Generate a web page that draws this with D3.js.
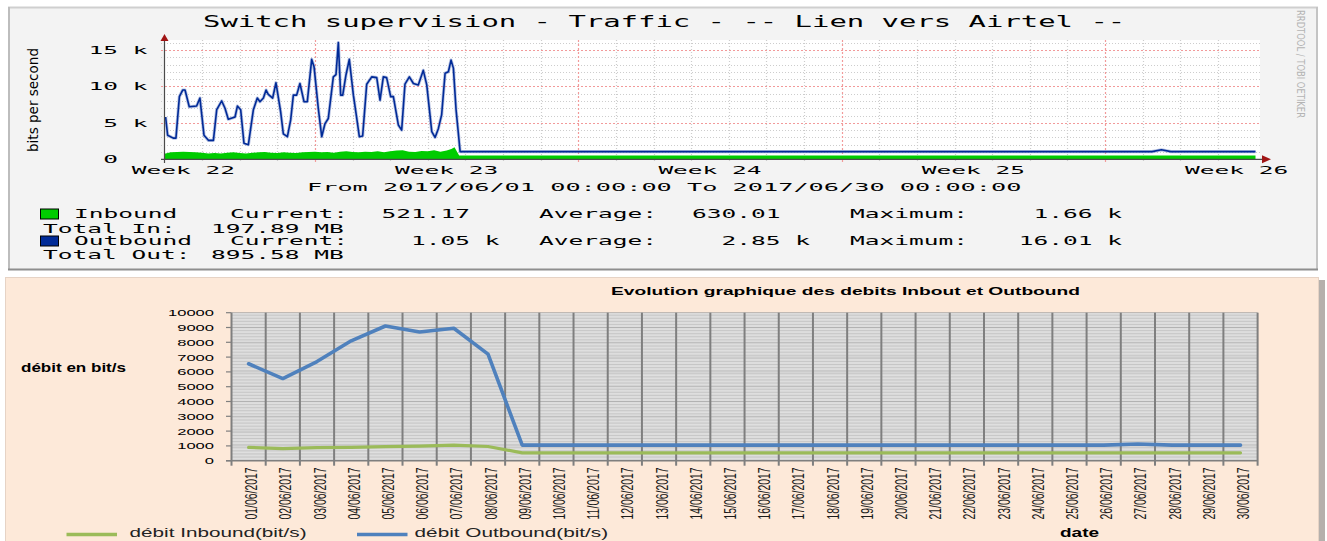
<!DOCTYPE html>
<html><head><meta charset="utf-8">
<script src="https://cdn.jsdelivr.net/npm/d3@7"></script>
<style>html,body{margin:0;padding:0;background:#fff;overflow:hidden}</style>
</head><body>
<svg id="c" width="1327" height="541" xmlns="http://www.w3.org/2000/svg"></svg>
<script>
// ================= TOP CHART (RRDtool) DATA =================
// hours since 2017/06/01 00:00, values in kbit/s
const outHours = [0.7,2.0,5.6,7.3,9.5,11.6,13.1,15.8,20.5,22.6,25.2,28.0,31.2,33.3,36.5,38.6,40.7,45.0,46.5,48.6,50.7,53.5,56.7,59.2,60.9,63.1,64.8,66.2,69.0,71.1,74.1,75.8,78.4,80.5,82.2,84.3,86.4,89.0,91.1,93.9,95.4,98.1,100.3,102.4,104.5,107.7,109.4,110.9,112.4,113.7,115.8,117.9,120.5,122.2,124.3,126.4,129.0,132.2,135.4,137.5,139.6,141.7,144.3,146.0,149.2,151.3,153.4,156.2,158.8,161.9,165.1,167.3,170.5,172.6,174.7,176.8,179.0,181.1,182.8,184.3,186.0,188.6,630,636,642,696];
const outKbps  = [5.8,3.3,2.9,2.9,8.6,9.5,9.5,7.2,7.3,8.4,3.3,2.6,2.6,6.8,8.0,7.0,5.5,5.8,7.3,6.8,2.2,2.0,6.8,8.4,7.9,8.4,9.5,8.9,8.4,10.5,6.5,3.5,3.1,5.4,8.8,8.8,10.4,7.9,7.9,13.7,12.7,7.0,3.1,4.9,5.6,11.3,11.6,16.0,8.8,8.8,11.6,13.7,8.8,6.3,3.1,3.2,10.3,11.3,11.2,8.1,11.3,11.2,8.6,8.6,4.7,4.0,10.3,11.3,10.4,10.2,12.2,10.2,3.8,3.0,4.2,6.1,11.8,12.0,13.6,12.5,6.8,1.05,1.05,1.3,1.05,1.05];
const inHours  = [0,4,8,12,16,20,24,28,32,36,40,44,48,52,56,60,64,68,72,76,80,84,88,92,96,100,104,108,112,116,120,124,128,132,136,140,144,148,152,156,160,164,168,172,176,180,183,185,188,696];
const inKbps   = [0.75,0.95,1.0,1.05,1.0,0.95,0.9,0.8,0.85,0.8,0.9,0.95,0.85,0.8,0.9,0.95,1.0,0.9,0.85,0.95,0.9,0.85,0.95,1.0,1.05,0.95,1.0,0.9,1.05,1.1,1.0,0.95,1.05,1.0,1.1,0.95,1.1,1.2,1.25,1.05,1.0,1.15,1.1,1.25,1.05,1.2,1.4,1.66,0.52,0.52];
const topYTickValues = [0, 5, 10, 15];
const topYTickLabels = ["0", "5 k", "10 k", "15 k"];
const weekLabels = ["Week 22", "Week 23", "Week 24", "Week 25", "Week 26"];
const weekCenterHours = [12, 180, 348, 516, 684];
const mondayHours = [96, 264, 432, 600];
const topTitle = "Switch supervision - Traffic - -- Lien vers Airtel --";
const topRange = "From 2017/06/01 00:00:00 To 2017/06/30 00:00:00";
const legendNames = ["Inbound", "Outbound"];
const legendCurrent = ["521.17", "1.05 k"];
const legendAverage = ["630.01", "2.85 k"];
const legendMaximum = ["1.66 k", "16.01 k"];
const legendTotals = ["Total In:", "Total Out:"];
const legendTotalValues = ["197.89 MB", "895.58 MB"];

// ================= BOTTOM CHART (Excel) DATA =================
const dates = ["01/06/2017","02/06/2017","03/06/2017","04/06/2017","05/06/2017","06/06/2017","07/06/2017","08/06/2017","09/06/2017","10/06/2017","11/06/2017","12/06/2017","13/06/2017","14/06/2017","15/06/2017","16/06/2017","17/06/2017","18/06/2017","19/06/2017","20/06/2017","21/06/2017","22/06/2017","23/06/2017","24/06/2017","25/06/2017","26/06/2017","27/06/2017","28/06/2017","29/06/2017","30/06/2017"];
const inboundDaily  = [900,820,880,900,950,980,1050,960,530,530,530,530,530,530,530,530,530,530,530,530,530,530,530,530,530,530,530,530,530,530];
const outboundDaily = [6550,5550,6700,8100,9100,8700,8950,7200,1050,1050,1050,1050,1050,1050,1050,1050,1050,1050,1050,1050,1050,1050,1050,1050,1050,1050,1130,1050,1050,1050];
const bottomYTicks = [0,1000,2000,3000,4000,5000,6000,7000,8000,9000,10000];
const bottomTitle = "Evolution graphique des debits Inbout et Outbound";
const bottomYLabel = "débit en bit/s";
const bottomXLabel = "date";
const bottomLegend = ["débit Inbound(bit/s)", "débit Outbound(bit/s)"];

// ================= DRAWING =================
const svg = d3.select("#c");
const MONO = "'DejaVu Sans Mono', monospace";
const SANS = "'Liberation Sans', Arial, sans-serif";
svg.append("rect").attr("width",1327).attr("height",541).attr("fill","#fff");

function stretchText(g, s, x, baseline, size, len, opts = {}) {
  const t = g.append("text").attr("x", x).attr("y", baseline)
    .attr("font-family", opts.family || MONO).attr("font-size", size)
    .attr("fill", opts.fill || "#000")
    .attr("textLength", len).attr("lengthAdjust", "spacingAndGlyphs")
    .attr("text-anchor", opts.anchor || "start")
    .text(s);
  if (opts.weight) t.attr("font-weight", opts.weight);
  if (opts.transform) t.attr("transform", opts.transform);
  return t;
}

// ---------- top panel ----------
const topG = svg.append("g");
topG.append("rect").attr("x",8).attr("y",7).attr("width",1310).attr("height",263).attr("fill","#f3f3f3");
topG.append("line").attr("x1",8).attr("x2",1318).attr("y1",7.5).attr("y2",7.5).attr("stroke","#cfcfcf").attr("stroke-width",2);
topG.append("line").attr("x1",9).attr("x2",9).attr("y1",7).attr("y2",270).attr("stroke","#bdbdbd").attr("stroke-width",2);
topG.append("line").attr("x1",1317).attr("x2",1317).attr("y1",7).attr("y2",270).attr("stroke","#c4c4c4").attr("stroke-width",2);
topG.append("line").attr("x1",8).attr("x2",1318).attr("y1",269.5).attr("y2",269.5).attr("stroke","#8e8e8e").attr("stroke-width",2);

const xT = d3.scaleLinear().domain([0, 696]).range([164.5, 1255.5]);
const yT = d3.scaleLinear().domain([0, 16.36]).range([159.3, 40]);
const plotRight = 1260;

topG.append("rect").attr("x",xT(0)).attr("y",40).attr("width",plotRight-xT(0)).attr("height",yT(0)-40).attr("fill","#fff");

// horizontal grid (minor every 1k, major every 5k)
const hk = d3.range(1, 17);
topG.selectAll(".hg").data(hk).join("line")
  .attr("x1", 161).attr("x2", plotRight)
  .attr("y1", d => Math.round(yT(d)) + 0.5).attr("y2", d => Math.round(yT(d)) + 0.5)
  .attr("stroke", d => d % 5 === 0 ? "#f29a9a" : "#cdcdcd")
  .attr("stroke-width", 1).attr("stroke-dasharray", d => d % 5 === 0 ? "2,2" : "1,2");
// vertical grid daily + mondays
const dayHours = d3.range(24, 696, 24);
topG.selectAll(".vg").data(dayHours.filter(h => !mondayHours.includes(h))).join("line")
  .attr("x1", d => Math.round(xT(d)) + 0.5).attr("x2", d => Math.round(xT(d)) + 0.5)
  .attr("y1", 40).attr("y2", 162).attr("stroke", "#cdcdcd").attr("stroke-width", 1.2).attr("stroke-dasharray", "1,2");
topG.selectAll(".vm").data(mondayHours).join("line")
  .attr("x1", d => Math.round(xT(d)) + 0.5).attr("x2", d => Math.round(xT(d)) + 0.5)
  .attr("y1", 40).attr("y2", 164).attr("stroke", "#f29a9a").attr("stroke-width", 1.2).attr("stroke-dasharray", "2,2");

// inbound area
const inData = inHours.map((h, i) => [h, inKbps[i]]);
topG.append("path").datum(inData)
  .attr("d", d3.area().x(d => xT(d[0])).y0(yT(0)).y1(d => yT(d[1])))
  .attr("fill", "#00cc00");
// outbound line
const outData = outHours.map((h, i) => [h, outKbps[i]]);
topG.append("path").datum(outData)
  .attr("d", d3.line().x(d => xT(d[0])).y(d => yT(d[1])))
  .attr("fill", "none").attr("stroke", "#6f86c6").attr("stroke-width", 3.2).attr("stroke-opacity", 0.5).attr("stroke-linejoin", "round");
topG.append("path").datum(outData)
  .attr("d", d3.line().x(d => xT(d[0])).y(d => yT(d[1])))
  .attr("fill", "none").attr("stroke", "#002a97").attr("stroke-width", 1.6).attr("stroke-linejoin", "round");

// axes
topG.append("line").attr("x1", 161).attr("x2", 1263).attr("y1", yT(0)).attr("y2", yT(0)).attr("stroke", "#4a4a4a").attr("stroke-width", 1.2);
topG.append("line").attr("x1", xT(0)).attr("x2", xT(0)).attr("y1", 38).attr("y2", 163).attr("stroke", "#4a4a4a").attr("stroke-width", 1.2);
topG.append("path").attr("d", `M${xT(0)-4},${41} L${xT(0)+4},${41} L${xT(0)},${34} Z`).attr("fill", "#a01414");
topG.append("path").attr("d", `M1262,${yT(0)-4} L1262,${yT(0)+4} L1271,${yT(0)} Z`).attr("fill", "#a01414");

// texts
const CW = 14.75;
stretchText(topG, topTitle, 203, 26.8, 16, topTitle.length * 17.4);
topYTickValues.forEach((v, i) => {
  const s = topYTickLabels[i];
  const padded = s.padStart(4, " ");
  const lead = s === "0" ? 1 : padded.length - padded.trimStart().length;
  const x0 = 88.5 + lead * CW;
  stretchText(topG, s, x0, yT(v) + 4, 11, s.length * CW);
});
weekLabels.forEach((s, i) => {
  stretchText(topG, s, xT(weekCenterHours[i]), 173.5, 11, s.length * CW, {anchor: "middle"});
});
stretchText(topG, topRange, 307, 190.8, 11, topRange.length * 15.2);
stretchText(topG, "bits per second", 0, 0, 13.5, 104, {family: "'DejaVu Sans', sans-serif", anchor: "middle", transform: "translate(37.5,100) rotate(-90)"});
stretchText(topG, "RRDTOOL / TOBI OETIKER", 0, 0, 10, 108, {family: "'DejaVu Sans', sans-serif", fill: "#b4b4b4", transform: "translate(1297,10) rotate(90)"});

// legend
const legendColors = ["#00cc00", "#002a97"];
const rowY = [214, 241];
const totY = [228.3, 255];
legendNames.forEach((name, i) => {
  topG.append("rect").attr("x", 40.5).attr("y", rowY[i] - 5).attr("width", 18).attr("height", 10)
    .attr("fill", legendColors[i]).attr("stroke", "#000").attr("stroke-width", 1);
  const fy = rowY[i] + 4.2;
  stretchText(topG, name, 74, fy, 11.5, name.length * CW);
  stretchText(topG, "Current:", 230, fy, 11.5, 8 * CW);
  stretchText(topG, "Average:", 539, fy, 11.5, 8 * CW);
  stretchText(topG, "Maximum:", 850, fy, 11.5, 8 * CW);
  const field = (v) => { const p = (v.endsWith(" k") ? v : v + "  ").padStart(10, " "); return p.length - p.trimStart().length; };
  stretchText(topG, legendCurrent[i], 352 + field(legendCurrent[i]) * CW, fy, 11.5, legendCurrent[i].length * CW);
  stretchText(topG, legendAverage[i], 662.5 + field(legendAverage[i]) * CW, fy, 11.5, legendAverage[i].length * CW);
  stretchText(topG, legendMaximum[i], 974.5 + field(legendMaximum[i]) * CW, fy, 11.5, legendMaximum[i].length * CW);
  const ty = totY[i] + 4.2;
  stretchText(topG, legendTotals[i], 43, ty, 11.5, legendTotals[i].length * CW);
  stretchText(topG, legendTotalValues[i], 211, ty, 11.5, legendTotalValues[i].length * CW);
});

// ---------- bottom panel ----------
const bot = svg.append("g");
bot.append("rect").attr("x", 1319).attr("y", 280).attr("width", 6).attr("height", 261).attr("fill", "#b5b0ac");
bot.append("rect").attr("x", 5.5).attr("y", 277.5).attr("width", 1313).attr("height", 270).attr("fill", "#fde9d9").attr("stroke", "#e6d3c5").attr("stroke-width", 1);

const xB = d3.scaleBand().domain(dates).range([231.5, 1257.6]).paddingInner(0).paddingOuter(0);
const yB = d3.scaleLinear().domain([0, 10000]).range([460.7, 312.7]);

bot.append("rect").attr("x", 231.5).attr("y", yB(10000)).attr("width", 1257.6 - 231.5).attr("height", yB(0) - yB(10000)).attr("fill", "#f6f6f6");
const minorH = d3.range(100, 10001, 100);
bot.selectAll(".hb").data(minorH).join("line")
  .attr("x1", 231.5).attr("x2", 1257.6).attr("y1", d => yB(d)).attr("y2", d => yB(d))
  .attr("stroke", d => d % 1000 === 0 ? "#8c8c8c" : "#acacac").attr("stroke-width", 0.65);
const bounds = d3.range(0, dates.length + 1).map(i => xB.range()[0] + i * xB.step());
bot.selectAll(".vb").data(bounds).join("line")
  .attr("x1", d => d).attr("x2", d => d).attr("y1", yB(10000)).attr("y2", yB(0) + 5)
  .attr("stroke", "#7f7f7f").attr("stroke-width", 2);
// y axis ticks
bot.selectAll(".yt").data(bottomYTicks).join("line")
  .attr("x1", 226).attr("x2", 231.5).attr("y1", d => yB(d)).attr("y2", d => yB(d))
  .attr("stroke", "#7f7f7f").attr("stroke-width", 1.2);
bot.append("line").attr("x1", 226).attr("x2", 1257.6).attr("y1", yB(0)).attr("y2", yB(0)).attr("stroke", "#7f7f7f").attr("stroke-width", 1.5);

const cx = d => xB(d) + xB.bandwidth() / 2;
const lineB = d3.line();
bot.append("path").datum(dates.map((d, i) => [cx(d), yB(inboundDaily[i])]))
  .attr("d", lineB).attr("fill", "none").attr("stroke", "#9bbb59").attr("stroke-width", 3.2)
  .attr("stroke-linecap", "round").attr("stroke-linejoin", "round");
bot.append("path").datum(dates.map((d, i) => [cx(d), yB(outboundDaily[i])]))
  .attr("d", lineB).attr("fill", "none").attr("stroke", "#4f81bd").attr("stroke-width", 3.6)
  .attr("stroke-linecap", "round").attr("stroke-linejoin", "round");

// texts
bottomYTicks.forEach(v => {
  const s = String(v);
  stretchText(bot, s, 214, yB(v) + 3.4, 9.6, s.length * 9.2, {family: SANS, anchor: "end"});
});
dates.forEach(d => {
  stretchText(bot, d, 0, 0, 16, 52, {family: SANS, anchor: "end", fill: "#1a1a1a", transform: `translate(${cx(d) + 8.5},467.5) rotate(-90)`});
});
stretchText(bot, bottomTitle, 611, 295, 11.6, 469, {family: SANS, weight: "bold"});
stretchText(bot, bottomYLabel, 21, 371.5, 12, 105, {family: SANS, weight: "bold"});
stretchText(bot, bottomXLabel, 1060, 537, 13, 39, {family: SANS, weight: "bold"});
// legend
bot.append("line").attr("x1", 66.5).attr("x2", 117).attr("y1", 534.5).attr("y2", 534.5).attr("stroke", "#9bbb59").attr("stroke-width", 3.5);
bot.append("line").attr("x1", 357).attr("x2", 407.5).attr("y1", 534.5).attr("y2", 534.5).attr("stroke", "#4f81bd").attr("stroke-width", 3.5);
stretchText(bot, bottomLegend[0], 129.6, 537.3, 13.5, 177, {family: SANS, fill: "#222"});
stretchText(bot, bottomLegend[1], 414.6, 537.3, 13.5, 193.5, {family: SANS, fill: "#222"});
</script>
</body></html>
